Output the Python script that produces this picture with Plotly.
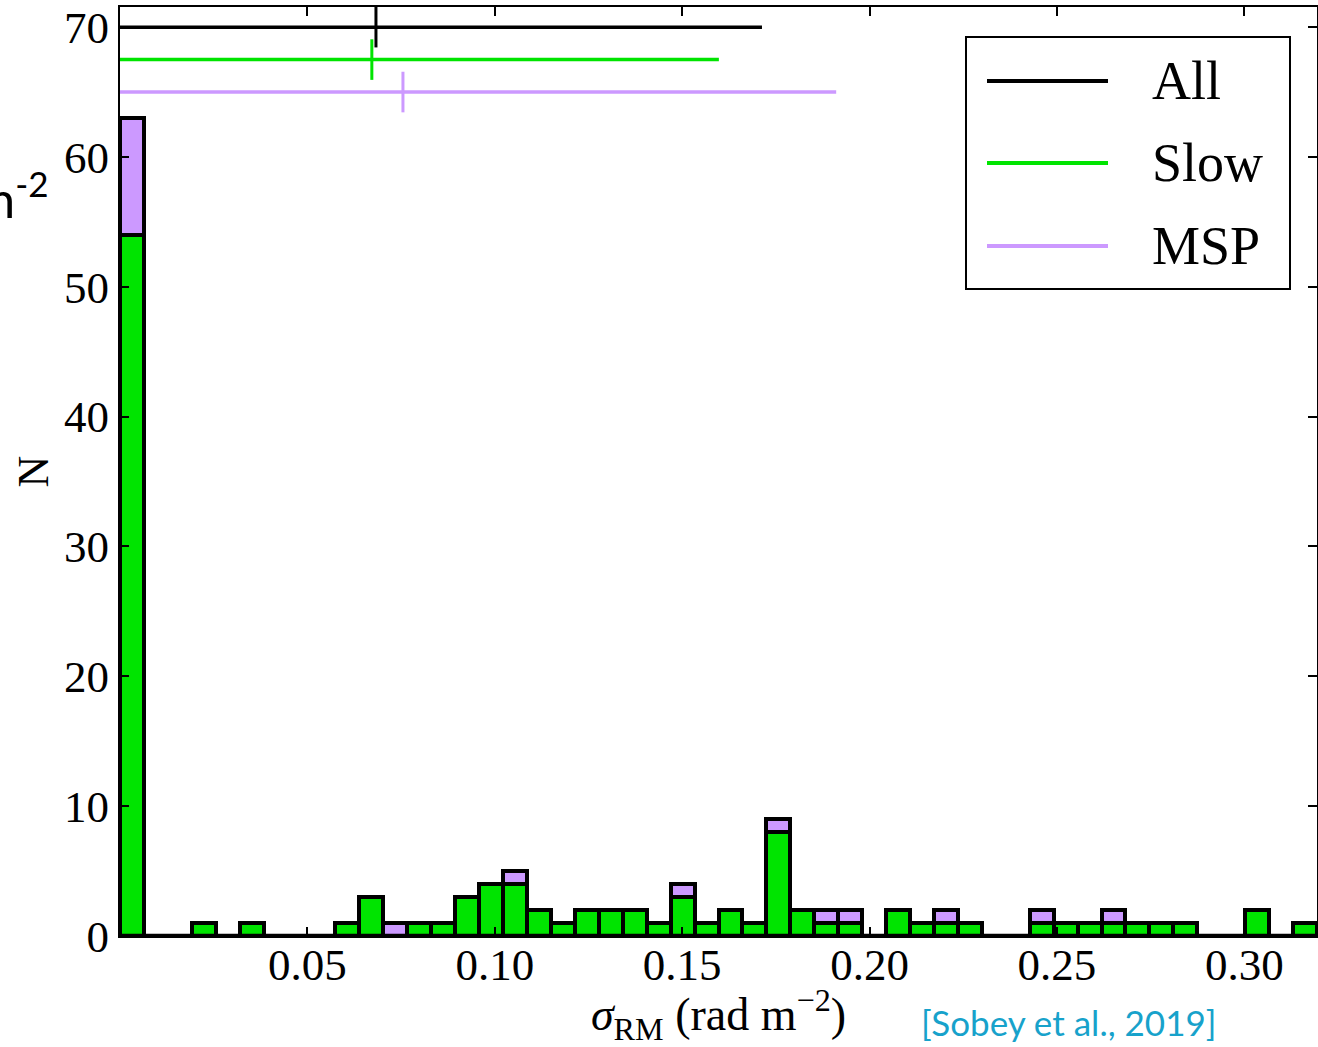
import numpy as np
import plotly.graph_objects as go

# ---------------- data ----------------
x_max = 0.3194           # upper end of the histogram range (rad m^-2)
n_bins = 50
slow_counts = [54, 0, 0, 1, 0, 1, 0, 0, 0, 1,
               3, 0, 1, 1, 3, 4, 4, 2, 1, 2,
               2, 2, 1, 3, 1, 2, 1, 8, 2, 1,
               1, 0, 2, 1, 1, 1, 0, 0, 1, 1,
               1, 1, 1, 1, 1, 0, 0, 2, 0, 1]
msp_counts = [9, 0, 0, 0, 0, 0, 0, 0, 0, 0,
              0, 1, 0, 0, 0, 0, 1, 0, 0, 0,
              0, 0, 0, 1, 0, 0, 0, 1, 0, 1,
              1, 0, 0, 0, 1, 0, 0, 0, 1, 0,
              0, 1, 0, 0, 0, 0, 0, 0, 0, 0]

groups = ["All", "Slow", "MSP"]
group_mean = [0.0683, 0.0672, 0.0755]
group_std = [0.1030, 0.0926, 0.1156]
group_level = [70.0, 67.5, 65.0]

x_tick_vals = [0.05, 0.10, 0.15, 0.20, 0.25, 0.30]
x_tick_text = ["0.05", "0.10", "0.15", "0.20", "0.25", "0.30"]
y_tick_vals = [0, 10, 20, 30, 40, 50, 60, 70]

# ---------------- styles ----------------
GREEN = "#00e400"
PURPLE = "#cc99ff"
BLACK = "#000000"
group_colors = [BLACK, GREEN, PURPLE]
SERIF = "Liberation Serif, Times New Roman, serif"

edges = np.linspace(0.0, x_max, n_bins + 1)
width = edges[1] - edges[0]
centers = edges[:-1] + width / 2

fig = go.Figure()
fig.add_trace(go.Bar(x=centers, y=slow_counts, width=width, name="Slow",
                     marker=dict(color=GREEN, line=dict(color=BLACK, width=4.5)),
                     showlegend=False))
fig.add_trace(go.Bar(x=centers, y=msp_counts, width=width, name="MSP",
                     marker=dict(color=PURPLE, line=dict(color=BLACK, width=4.5)),
                     showlegend=False))

for name, m, s, lvl, c in zip(groups, group_mean, group_std, group_level, group_colors):
    fig.add_trace(go.Scatter(x=[m - s, m + s], y=[lvl, lvl], mode="lines",
                             line=dict(color=c, width=3.5), showlegend=False,
                             name=name))
    fig.add_trace(go.Scatter(x=[m], y=[lvl], mode="markers",
                             marker=dict(symbol="line-ns", size=29,
                                         line=dict(color=c, width=3)),
                             showlegend=False, name=name))

# bottom baseline (zero-height bin edges in the original)
fig.add_shape(type="line", xref="paper", yref="y", x0=0, x1=1, y0=0, y1=0,
              line=dict(color=BLACK, width=4.5))

# ---------- manual legend (long line samples) ----------
W, H = 1318, 1047
L, R, T, B = 120, 1, 7, 111
pw, ph = W - L - R, H - T - B

def px(xp):
    return (xp - L) / pw

def py(yp):
    return 1 - (yp - T) / ph

fig.add_shape(type="rect", xref="paper", yref="paper",
              x0=px(966), x1=px(1290), y0=py(289), y1=py(37),
              line=dict(color=BLACK, width=2), fillcolor="white", layer="above")
leg_y = [81, 163, 246]
for name, c, yy in zip(groups, group_colors, leg_y):
    fig.add_shape(type="line", xref="paper", yref="paper",
                  x0=px(987), x1=px(1108), y0=py(yy), y1=py(yy),
                  line=dict(color=c, width=4), layer="above")
    fig.add_annotation(xref="paper", yref="paper", x=px(1150), y=py(yy),
                       text=name, showarrow=False, xanchor="left", yanchor="middle",
                       font=dict(family=SERIF, size=54, color=BLACK))

# citation
fig.add_annotation(xref="paper", yref="paper", x=px(1068), y=py(1022),
                   text="[Sobey et al., 2019]", showarrow=False,
                   xanchor="center", yanchor="middle",
                   font=dict(family="Lato, Carlito, sans-serif", size=35, color="#17a2cb"))

# cut-off slide text at the left edge
fig.add_annotation(xref="paper", yref="paper", x=px(50), y=py(195),
                   text="m<sup>-2</sup>", showarrow=False,
                   xanchor="right", yanchor="middle",
                   font=dict(family="Lato, Carlito, sans-serif", size=50, color=BLACK))

fig.update_layout(
    width=W, height=H,
    margin=dict(l=L, r=R, t=T, b=B, autoexpand=False),
    barmode="stack", bargap=0,
    plot_bgcolor="white", paper_bgcolor="white",
    font=dict(family=SERIF, color=BLACK, size=44),
)
fig.update_xaxes(range=[0, x_max], tickvals=x_tick_vals, ticktext=x_tick_text,
                 showline=True, linecolor=BLACK, linewidth=2, mirror="allticks",
                 ticks="inside", ticklen=9, tickwidth=1.5, tickcolor=BLACK,
                 showgrid=False, zeroline=False, ticklabelstandoff=-12,
                 tickfont=dict(family=SERIF, size=45),
                 title=dict(text="<i>σ</i><sub>RM</sub> (rad m<sup>−2</sup>)",
                            font=dict(family=SERIF, size=46), standoff=8))
fig.update_yaxes(range=[0, 71.55], tickvals=y_tick_vals,
                 showline=True, linecolor=BLACK, linewidth=2, mirror="allticks",
                 ticks="inside", ticklen=9, tickwidth=1.5, tickcolor=BLACK,
                 showgrid=False, zeroline=False,
                 tickfont=dict(family=SERIF, size=45),
                 title=dict(text="N", font=dict(family=SERIF, size=44), standoff=2))

fig.write_html("out.html")
